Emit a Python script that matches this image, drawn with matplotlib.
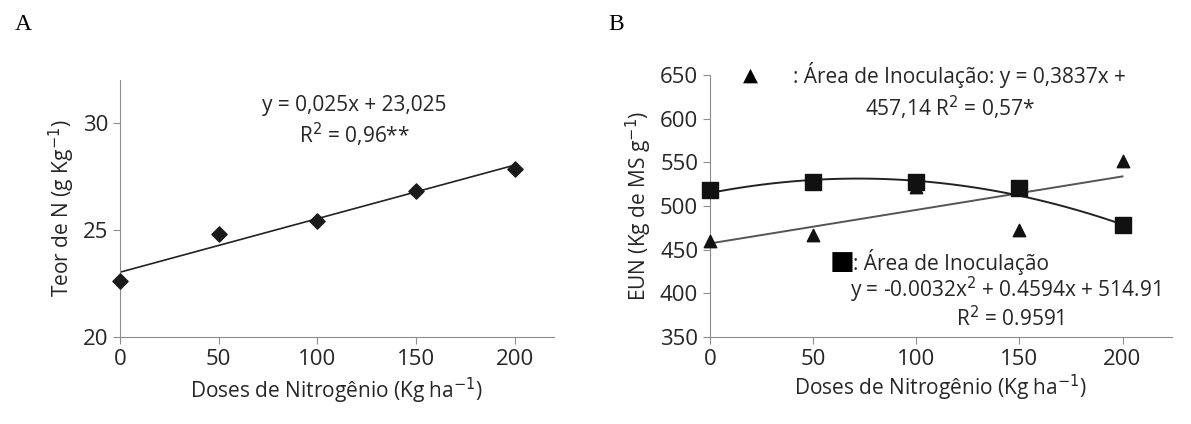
import numpy as np
import matplotlib
matplotlib.use("Agg")
import matplotlib.pyplot as plt

plt.rcParams['font.family'] = ['Open Sans', 'DejaVu Sans']

# ─── data ───
doses = [0, 50, 100, 150, 200]
teor_n = [22.6, 24.8, 25.4, 26.8, 27.85]
eun_tri = [460, 467, 522, 473, 552]
eun_sq = [518, 528, 527, 521, 478]

W, H = 1191, 424
fig = plt.figure(figsize=(W / 100, H / 100), dpi=100)
TXT = "#262626"
FS = 15

def box(l, r, t, b):
    return [l / W, 1 - b / H, (r - l) / W, (b - t) / H]

def style(ax):
    for s in ["top", "right"]:
        ax.spines[s].set_visible(False)
    for s in ["left", "bottom"]:
        ax.spines[s].set_color("#8c8c8c")
    ax.tick_params(direction="out", color="#8c8c8c", length=5, labelsize=16, colors=TXT)

# ─── A ───
axA = fig.add_axes(box(120, 554, 80, 337))
style(axA)
xs = np.linspace(0, 200, 50)
axA.plot(xs, 0.025 * xs + 23.025, color="#222222", lw=1.2)
axA.scatter(doses, teor_n, marker="D", s=60, color="#1a1a1a", zorder=3, clip_on=False)
axA.set_xlim(0, 220)
axA.set_ylim(20, 32)
axA.set_xticks(doses)
axA.set_yticks([20, 25, 30])
axA.set_xlabel("Doses de Nitrogênio (Kg ha$^{-1}$)", fontsize=FS, color=TXT)
axA.set_ylabel("Teor de N (g Kg$^{-1}$)", fontsize=FS, color=TXT)
axA.text(0.54, 0.94, "y = 0,025x + 23,025\nR$^2$ = 0,96**", transform=axA.transAxes,
         ha="center", va="top", fontsize=FS, linespacing=1.2, color=TXT)
fig.text(15 / W, 1 - 25 / H, "A", fontsize=17, family="Liberation Serif", va="center")

# ─── B ───
axB = fig.add_axes(box(710, 1172, 75, 337))
style(axB)
axB.plot(xs, 0.3837 * xs + 457.14, color="#555555", lw=1.4)
axB.plot(xs, -0.0032 * xs ** 2 + 0.4594 * xs + 514.91, color="#222222", lw=1.4)
axB.scatter(doses, eun_tri, marker="^", s=80, color="#111111", zorder=3, clip_on=False)
axB.scatter(doses, eun_sq, marker="s", s=130, color="#111111", zorder=4, clip_on=False)
axB.set_xlim(0, 224)
axB.set_ylim(350, 650)
axB.set_xticks(doses)
axB.set_yticks(range(350, 651, 50))
axB.set_xlabel("Doses de Nitrogênio (Kg ha$^{-1}$)", fontsize=FS, color=TXT, labelpad=2)
axB.set_ylabel("EUN (Kg de MS g$^{-1}$)", fontsize=FS, color=TXT)
axB.text(0.087, 1.0, "\u25b2", transform=axB.transAxes, ha="center", va="center", fontsize=14, family="DejaVu Sans")
axB.text(0.18, 1.0, ": Área de Inoculação: y = 0,3837x +", transform=axB.transAxes,
         ha="left", va="center", fontsize=FS, color=TXT)
axB.text(0.52, 0.874, "457,14 R$^2$ = 0,57*", transform=axB.transAxes,
         ha="center", va="center", fontsize=FS, color=TXT)
axB.text(0.286, 0.286, "\u25a0", transform=axB.transAxes, ha="center", va="center", fontsize=19, family="DejaVu Sans")
axB.text(0.31, 0.286, ": Área de Inoculação", transform=axB.transAxes,
         ha="left", va="center", fontsize=FS, color=TXT)
axB.text(0.64, 0.18, "y = -0.0032x$^2$ + 0.4594x + 514.91", transform=axB.transAxes,
         ha="center", va="center", fontsize=FS, color=TXT)
axB.text(0.65, 0.07, "R$^2$ = 0.9591", transform=axB.transAxes,
         ha="center", va="center", fontsize=FS, color=TXT)
fig.text(608 / W, 1 - 25 / H, "B", fontsize=17, family="Liberation Serif", va="center")

fig.savefig("out.png", dpi=100)
